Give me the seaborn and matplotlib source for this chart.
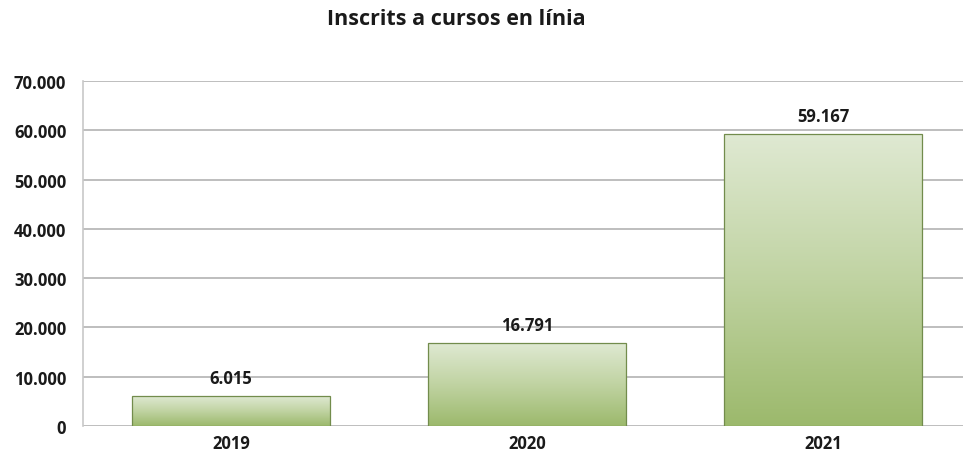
import numpy as np
import pandas as pd
import matplotlib
matplotlib.use("Agg")
import matplotlib.pyplot as plt
import matplotlib.ticker as mticker
from matplotlib.colors import LinearSegmentedColormap
import seaborn as sns

years = ["2019", "2020", "2021"]
inscrits = [6015, 16791, 59167]
title = "Inscrits a cursos en línia"

sns.set_style("white")
plt.rcParams['font.family'] = ['Open Sans', 'DejaVu Sans']

df = pd.DataFrame({"year": years, "inscrits": inscrits})

fig = plt.figure(figsize=(9.63, 4.64), dpi=100)
ax = fig.add_axes([0.0862, 0.0797, 0.922, 0.7436])

sns.barplot(data=df, x="year", y="inscrits", ax=ax, width=0.67,
            color="#9bbb69", edgecolor="#728c4c", linewidth=0.9, zorder=3)

# vertical gradient inside each bar (light at top, darker at bottom)
cmap = LinearSegmentedColormap.from_list("grn", ["#9cb96c", "#c0d3a2", "#dfe9d2"])
grad = np.linspace(0, 1, 256).reshape(-1, 1)
for p in ax.patches:
    p.set_facecolor("none")
    x0, y0 = p.get_x(), p.get_y()
    w, h = p.get_width(), p.get_height()
    im = ax.imshow(grad, cmap=cmap, aspect="auto", origin="lower",
                   extent=[x0, x0 + w, y0, y0 + h], zorder=2)
    im.set_clip_path(p)
    ax.annotate(f"{h:,.0f}".replace(",", "."), (x0 + w / 2, h),
                xytext=(0, 7), textcoords="offset points",
                ha="center", va="bottom", fontsize=12, fontweight="bold",
                color="#1a1a1a")

ax.set_xlim(-0.5, 2.5)
ax.set_ylim(0, 70000)
ax.yaxis.set_major_locator(mticker.MultipleLocator(10000))
ax.yaxis.set_major_formatter(mticker.FuncFormatter(lambda v, _: f"{v:,.0f}".replace(",", ".")))
ax.grid(axis="y", color="#b3b3b3", linewidth=1.2, zorder=0)
ax.set_axisbelow(True)

for s in ["top", "right", "bottom"]:
    ax.spines[s].set_visible(False)
ax.spines["left"].set_color("#c8c8c8")
ax.spines["left"].set_linewidth(1.2)

ax.set_xlabel("")
ax.set_ylabel("")
ax.tick_params(axis="y", length=0, labelsize=12, colors="#1a1a1a", pad=12)
ax.tick_params(axis="x", length=0, labelsize=12, colors="#1a1a1a", pad=6)
for lab in ax.get_xticklabels() + ax.get_yticklabels():
    lab.set_fontweight("bold")

fig.text(0.474, 0.957, title, ha="center", va="center",
         fontsize=15.5, fontweight="bold", color="#1a1a1a")

fig.savefig("out.png", dpi=100)
